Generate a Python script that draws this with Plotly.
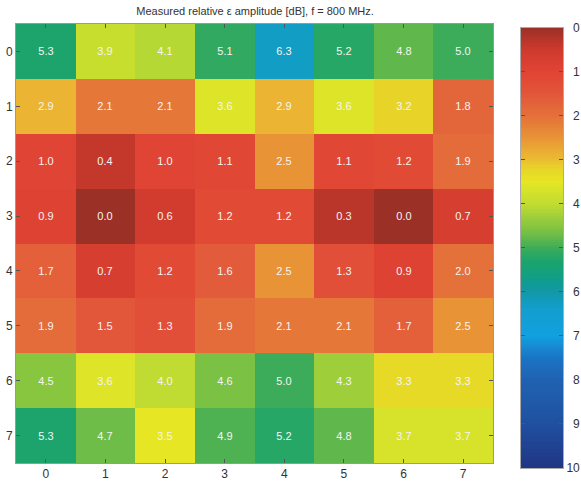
import plotly.graph_objects as go

# Relative epsilon amplitude [dB] on an 8x8 grid, rows top-to-bottom
rows = [0, 1, 2, 3, 4, 5, 6, 7]
cols = [0, 1, 2, 3, 4, 5, 6, 7]
amp_row0 = [5.3, 3.9, 4.1, 5.1, 6.3, 5.2, 4.8, 5.0]
amp_row1 = [2.9, 2.1, 2.1, 3.6, 2.9, 3.6, 3.2, 1.8]
amp_row2 = [1.0, 0.4, 1.0, 1.1, 2.5, 1.1, 1.2, 1.9]
amp_row3 = [0.9, 0.0, 0.6, 1.2, 1.2, 0.3, 0.0, 0.7]
amp_row4 = [1.7, 0.7, 1.2, 1.6, 2.5, 1.3, 0.9, 2.0]
amp_row5 = [1.9, 1.5, 1.3, 1.9, 2.1, 2.1, 1.7, 2.5]
amp_row6 = [4.5, 3.6, 4.0, 4.6, 5.0, 4.3, 3.3, 3.3]
amp_row7 = [5.3, 4.7, 3.5, 4.9, 5.2, 4.8, 3.7, 3.7]
amplitude = [amp_row0, amp_row1, amp_row2, amp_row3,
             amp_row4, amp_row5, amp_row6, amp_row7]
cbar_ticks = [0, 1, 2, 3, 4, 5, 6, 7, 8, 9, 10]

# Reversed jet-like palette: dark red at 0 dB to navy at 10 dB
palette = [
    [0.00, "#9a3026"],
    [0.05, "#cf3a2e"],
    [0.10, "#e04434"],
    [0.15, "#e2563a"],
    [0.20, "#e4703a"],
    [0.25, "#e89436"],
    [0.29, "#ebb432"],
    [0.32, "#e8d428"],
    [0.35, "#e6e624"],
    [0.40, "#c0dc32"],
    [0.45, "#88c640"],
    [0.48, "#60b84c"],
    [0.50, "#3cac5a"],
    [0.53, "#1ca46c"],
    [0.57, "#109e88"],
    [0.60, "#1298a8"],
    [0.64, "#129ece"],
    [0.70, "#12a0e0"],
    [0.75, "#1a74c4"],
    [0.80, "#2062b2"],
    [0.90, "#2050a0"],
    [1.00, "#203684"],
]

FONT = "Liberation Sans, Arial, sans-serif"

fig = go.Figure()

# Main map
fig.add_trace(
    go.Heatmap(
        z=amplitude,
        x=cols,
        y=rows,
        zmin=0,
        zmax=10,
        colorscale=palette,
        showscale=False,
        text=[[f"{v:.1f}" for v in r] for r in amplitude],
        texttemplate="%{text}",
        textfont=dict(family=FONT, size=11, color="#f4f4f4"),
        hoverinfo="skip",
        xaxis="x",
        yaxis="y",
    )
)

# Colour key drawn as a one-column heatmap with 0 dB at the top
ramp = [i / 20 for i in range(cbar_ticks[0] * 20, cbar_ticks[-1] * 20 + 1)]
fig.add_trace(
    go.Heatmap(
        z=[[v] for v in ramp],
        x=[0],
        y=ramp,
        zmin=0,
        zmax=10,
        colorscale=palette,
        showscale=False,
        hoverinfo="skip",
        xaxis="x2",
        yaxis="y2",
    )
)

axis_style = dict(
    ticks="inside",
    ticklen=4,
    tickcolor="#555",
    showline=True,
    linecolor="#999",
    linewidth=1,
    mirror="ticks",
    showgrid=False,
    zeroline=False,
    tickfont=dict(family=FONT, size=12, color="#333"),
)

# right-align the key labels by padding single digits with a figure space
cbar_labels = [f"{t:>2}".replace(" ", "\u2007") for t in cbar_ticks]

fig.update_layout(
    width=581,
    height=486,
    margin=dict(l=16, r=0, t=20, b=15),
    paper_bgcolor="white",
    plot_bgcolor="white",
    title=dict(
        text="Measured relative ε amplitude [dB], f = 800 MHz.",
        x=0.439,
        xanchor="center",
        xref="container",
        y=1 - 11 / 486,
        yanchor="middle",
        yref="container",
        font=dict(family=FONT, size=11, color="#333"),
    ),
    xaxis=dict(domain=[0, 0.8442], tickvals=cols, range=[-0.5, 7.5], **axis_style),
    yaxis=dict(domain=[0.0177, 0.9911], tickvals=rows, range=[7.5, -0.5], **axis_style),
    xaxis2=dict(
        domain=[0.8938, 0.9681],
        anchor="y2",
        range=[-0.5, 0.5],
        showticklabels=False,
        ticks="",
        showline=True,
        linecolor="#aaa",
        mirror=True,
        showgrid=False,
        zeroline=False,
    ),
    yaxis2=dict(
        domain=[0.0067, 0.9823],
        anchor="x2",
        side="right",
        range=[10, 0],
        tickvals=cbar_ticks,
        ticktext=cbar_labels,
        ticks="inside",
        ticklen=4,
        tickcolor="#555",
        showline=True,
        linecolor="#aaa",
        mirror="ticks",
        showgrid=False,
        zeroline=False,
        tickfont=dict(family=FONT, size=12, color="#333"),
    ),
)

fig.write_html("out.html")
